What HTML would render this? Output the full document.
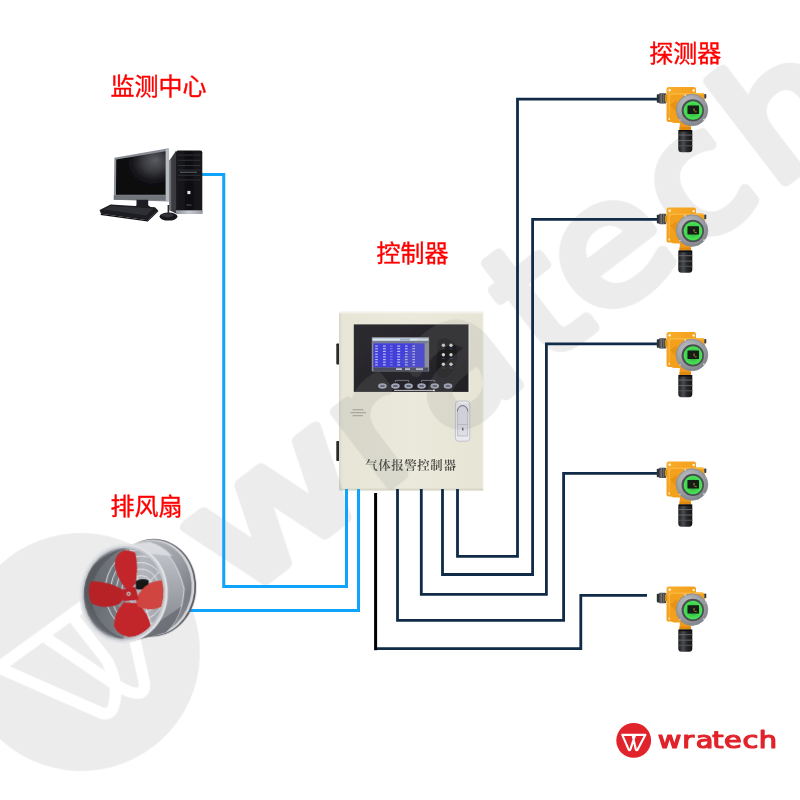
<!DOCTYPE html>
<html lang="zh-CN">
<head>
<meta charset="utf-8">
<title>气体报警控制器 系统图</title>
<style>
html,body{margin:0;padding:0;background:#fff;}
body{width:800px;height:800px;overflow:hidden;position:relative;font-family:"Liberation Sans","Noto Sans CJK SC",sans-serif;}
svg{position:absolute;left:0;top:0;display:block;}
.lbl{font-family:"Liberation Sans","Noto Sans CJK SC",sans-serif;font-size:24px;fill:#ff0000;stroke:#ff0000;stroke-width:0.35px;}
</style>
</head>
<body>
<svg width="800" height="800" viewBox="0 0 800 800">
<defs>
  
  <filter id="soft" x="-5%" y="-5%" width="110%" height="110%"><feGaussianBlur stdDeviation="0.45"/></filter>
  <filter id="soft2" x="-5%" y="-5%" width="110%" height="110%"><feGaussianBlur stdDeviation="0.3"/></filter>
  <linearGradient id="boxg" x1="0" y1="0" x2="1" y2="0">
    <stop offset="0" stop-color="#d6d4c4"/><stop offset="0.02" stop-color="#e6e5d6"/><stop offset="0.5" stop-color="#eae9db"/><stop offset="0.985" stop-color="#e6e5d5"/><stop offset="1" stop-color="#f1f0e6"/>
  </linearGradient>
  <linearGradient id="pang" x1="0" y1="0" x2="1" y2="1">
    <stop offset="0" stop-color="#2c2b30"/><stop offset="1" stop-color="#222126"/>
  </linearGradient>
  
  <radialGradient id="scr" cx="0.72" cy="0.28" r="0.62" fx="0.8" fy="0.2">
    <stop offset="0" stop-color="#5a5b61"/><stop offset="0.35" stop-color="#3b3c41"/><stop offset="0.7" stop-color="#141417"/><stop offset="1" stop-color="#09090b"/>
  </radialGradient>
  <linearGradient id="twr" x1="0" y1="0" x2="1" y2="0">
    <stop offset="0" stop-color="#1b1b1f"/><stop offset="0.5" stop-color="#0d0d10"/><stop offset="1" stop-color="#1a1a1e"/>
  </linearGradient>
  <linearGradient id="silv" x1="0" y1="0" x2="1" y2="0">
    <stop offset="0" stop-color="#8e9198"/><stop offset="0.5" stop-color="#c9ccd2"/><stop offset="1" stop-color="#9a9da4"/>
  </linearGradient>
  
  <linearGradient id="duct" x1="0" y1="0" x2="0" y2="1">
    <stop offset="0" stop-color="#c9ccd1"/><stop offset="0.25" stop-color="#b4b7bd"/><stop offset="0.6" stop-color="#999ca3"/><stop offset="1" stop-color="#7c7f86"/>
  </linearGradient>
  <linearGradient id="flange" x1="0" y1="0" x2="1" y2="1">
    <stop offset="0" stop-color="#c4c6cb"/><stop offset="0.45" stop-color="#9fa2a8"/><stop offset="0.75" stop-color="#7b7e85"/><stop offset="1" stop-color="#8e9197"/>
  </linearGradient>
  <linearGradient id="inner" x1="0" y1="0" x2="1" y2="0">
    <stop offset="0" stop-color="#6c6f76"/><stop offset="0.35" stop-color="#8c8f96"/><stop offset="0.7" stop-color="#b3b6bc"/><stop offset="1" stop-color="#a4a7ad"/>
  </linearGradient>
  <clipPath id="fanclip"><ellipse cx="300" cy="360" rx="244" ry="278" transform="rotate(6 300 360)"/></clipPath>
  
  <linearGradient id="org" x1="0" y1="0" x2="1" y2="1">
    <stop offset="0" stop-color="#f8ae2c"/><stop offset="0.5" stop-color="#f4a01e"/><stop offset="1" stop-color="#e58f12"/>
  </linearGradient>
  <radialGradient id="bez" cx="0.4" cy="0.35" r="0.7">
    <stop offset="0" stop-color="#c4c6ca"/><stop offset="0.6" stop-color="#9b9ea3"/><stop offset="1" stop-color="#7d8086"/>
  </radialGradient>
  <radialGradient id="grn" cx="0.5" cy="0.5" r="0.5">
    <stop offset="0" stop-color="#1f8a2a"/><stop offset="0.6" stop-color="#3ed14b"/><stop offset="0.9" stop-color="#4be058"/><stop offset="1" stop-color="#2c9a36"/>
  </radialGradient>
  <linearGradient id="sens" x1="0" y1="0" x2="1" y2="0">
    <stop offset="0" stop-color="#1a1b1d"/><stop offset="0.35" stop-color="#4a4c50"/><stop offset="0.6" stop-color="#2a2b2e"/><stop offset="1" stop-color="#141416"/>
  </linearGradient>
  <g id="det" transform="scale(0.1)">
    <!-- plate -->
    <rect x="165" y="70" width="295" height="350" rx="22" fill="url(#org)"/>
    <circle cx="197" cy="102" r="12" fill="#fff8ea"/><circle cx="437" cy="105" r="12" fill="#fff8ea"/><circle cx="197" cy="388" r="12" fill="#fff8ea"/>
    <!-- housing -->
    <path d="M185 150 Q185 130 210 130 H520 Q548 130 548 160 V330 Q548 400 480 430 H250 Q200 430 195 380 z" fill="#f3a01f"/>
    <path d="M185 150 Q185 130 210 130 H520 Q540 130 546 145 H215 Q200 150 200 170 V380 L195 380 z" fill="#f9b740"/>
    <path d="M200 250 L270 200 L262 320 z" fill="#e08c10" opacity="0.6"/>
    <!-- glands -->
    <rect x="68" y="142" width="32" height="86" rx="8" fill="#2f3134"/>
    <rect x="90" y="132" width="72" height="104" rx="10" fill="#45484c"/>
    <rect x="106" y="134" width="11" height="100" fill="#83868b"/><rect x="132" y="134" width="10" height="100" fill="#6c6f74"/>
    <rect x="150" y="150" width="22" height="66" fill="#d98c18"/>
    <rect x="543" y="140" width="20" height="46" rx="8" fill="#3a3c40"/>
    <!-- neck -->
    <path d="M300 410 H408 V500 H295 z" fill="#f0991a"/>
    <path d="M295 470 H410 V500 H295 z" fill="#e08a10"/>
    <!-- sensor -->
    <path d="M283 500 H423 V690 Q423 722 390 722 H316 Q283 722 283 690 z" fill="url(#sens)"/>
    <rect x="283" y="545" width="140" height="11" fill="#6a6c70" opacity="0.85"/><rect x="283" y="600" width="140" height="11" fill="#66686c" opacity="0.85"/><rect x="283" y="652" width="140" height="11" fill="#55575b" opacity="0.85"/>
    <rect x="290" y="500" width="126" height="16" fill="#101113"/>
    <!-- bezel -->
    <circle cx="420" cy="300" r="158" fill="url(#bez)"/>
    <circle cx="420" cy="300" r="158" fill="none" stroke="#8a8c90" stroke-width="8"/>
    <circle cx="428" cy="304" r="112" fill="#4c4f53"/>
    <circle cx="430" cy="305" r="96" fill="url(#grn)"/>
    <rect x="375" y="256" width="115" height="84" rx="4" fill="#141a14"/>
    <rect x="436" y="285" width="9" height="26" fill="#c9a13a"/><rect x="445" y="315" width="22" height="7" fill="#c9a13a"/>
    <circle cx="352" cy="152" r="9" fill="#d9dbde"/><circle cx="540" cy="395" r="9" fill="#d9dbde"/><circle cx="300" cy="400" r="8" fill="#d0d2d6"/><circle cx="560" cy="230" r="8" fill="#b9bbbf"/>
  </g>
  
  <mask id="wmask" maskUnits="userSpaceOnUse" x="-130" y="-130" width="260" height="260">
    <rect x="-130" y="-130" width="260" height="260" fill="#fff"/>
    <path transform="rotate(1.5)" d="M14 -36 L16 22 Q13 46 -2 60 Q-12 70 -19 62 L-76 -36 L76 -36 L35 58 Q31 69 24 68 Q14 64 4 34 L-21 -35" fill="none" stroke="#000" stroke-width="11.5" stroke-linejoin="round" stroke-linecap="round"/>
  </mask>
  <!-- DEFS -->
</defs>
<rect width="800" height="800" fill="#ffffff"/>

<!-- CONTROLLER -->
<g id="controller" filter="url(#soft)">
  <rect x="336.3" y="343.5" width="3.2" height="21" rx="0.8" fill="#2a2a2a"/>
  <rect x="336.3" y="441" width="3.2" height="20" rx="0.8" fill="#2a2a2a"/>
  <rect x="339" y="311.8" width="144.6" height="178.8" rx="2" fill="url(#boxg)"/>
  <rect x="339" y="311.8" width="144.6" height="1.6" rx="0.8" fill="#f3f2ea"/>
  <rect x="339" y="488.4" width="144.6" height="2.2" rx="1" fill="#d9d7c8"/>
  <rect x="353.8" y="324.4" width="114.9" height="67.5" fill="url(#pang)"/>
  <rect x="468.7" y="324.4" width="1.2" height="67.5" fill="#f3f2ea"/>
  <path d="M438 341 q4 -4 10 -2 q8 2 9 12 q1 12 -4 20 q-4 6 -10 7 q-6 0 -7 -8 z" fill="#1a191d" opacity="0.8"/>
  <rect x="371.8" y="337.1" width="57.3" height="34.3" fill="#8d8e9c"/>
  <rect x="372.6" y="338.3" width="55.8" height="2.6" fill="#d5e6ee"/>
  <rect x="400" y="338.6" width="10" height="2" fill="#9fb0c8"/>
  <rect x="372.6" y="340.9" width="55.8" height="2.4" fill="#767a92"/>
  <rect x="373.3" y="343.3" width="51.3" height="24.2" fill="#4340d8"/>
  <rect x="373.3" y="367.5" width="55" height="3.4" fill="#4a4c5e"/>
  <rect x="396" y="368.3" width="6" height="1.6" fill="#c9cbd6"/><rect x="405" y="368.3" width="5" height="1.6" fill="#c9cbd6"/><rect x="416" y="368.3" width="7" height="1.6" fill="#c9cbd6"/>
  <rect x="375.2" y="345.5" width="2.6" height="1.2" fill="#dfe3ff" opacity="0.75"/><rect x="383" y="345.5" width="2.8" height="1.2" fill="#dfe3ff" opacity="0.75"/><rect x="390" y="345.5" width="2.6" height="1.2" fill="#dfe3ff" opacity="0.35"/><rect x="397.2" y="345.5" width="3" height="1.2" fill="#dfe3ff" opacity="0.75"/><rect x="405" y="345.5" width="2.6" height="1.2" fill="#dfe3ff" opacity="0.75"/><rect x="412.4" y="345.5" width="2.6" height="1.2" fill="#dfe3ff" opacity="0.75"/><rect x="375.2" y="348.1" width="2.6" height="1.2" fill="#dfe3ff" opacity="0.75"/><rect x="383" y="348.1" width="2.8" height="1.2" fill="#dfe3ff" opacity="0.75"/><rect x="390" y="348.1" width="2.6" height="1.2" fill="#dfe3ff" opacity="0.35"/><rect x="397.2" y="348.1" width="3" height="1.2" fill="#dfe3ff" opacity="0.75"/><rect x="405" y="348.1" width="2.6" height="1.2" fill="#dfe3ff" opacity="0.75"/><rect x="412.4" y="348.1" width="2.6" height="1.2" fill="#dfe3ff" opacity="0.75"/><rect x="375.2" y="350.8" width="2.6" height="1.2" fill="#dfe3ff" opacity="0.75"/><rect x="383" y="350.8" width="2.8" height="1.2" fill="#dfe3ff" opacity="0.75"/><rect x="390" y="350.8" width="2.6" height="1.2" fill="#dfe3ff" opacity="0.35"/><rect x="397.2" y="350.8" width="3" height="1.2" fill="#dfe3ff" opacity="0.75"/><rect x="405" y="350.8" width="2.6" height="1.2" fill="#dfe3ff" opacity="0.75"/><rect x="412.4" y="350.8" width="2.6" height="1.2" fill="#dfe3ff" opacity="0.75"/><rect x="375.2" y="353.6" width="2.6" height="1.2" fill="#dfe3ff" opacity="0.75"/><rect x="383" y="353.6" width="2.8" height="1.2" fill="#dfe3ff" opacity="0.75"/><rect x="390" y="353.6" width="2.6" height="1.2" fill="#dfe3ff" opacity="0.35"/><rect x="397.2" y="353.6" width="3" height="1.2" fill="#dfe3ff" opacity="0.75"/><rect x="405" y="353.6" width="2.6" height="1.2" fill="#dfe3ff" opacity="0.75"/><rect x="412.4" y="353.6" width="2.6" height="1.2" fill="#dfe3ff" opacity="0.75"/><rect x="375.2" y="356.3" width="2.6" height="1.2" fill="#dfe3ff" opacity="0.75"/><rect x="383" y="356.3" width="2.8" height="1.2" fill="#dfe3ff" opacity="0.75"/><rect x="390" y="356.3" width="2.6" height="1.2" fill="#dfe3ff" opacity="0.35"/><rect x="397.2" y="356.3" width="3" height="1.2" fill="#dfe3ff" opacity="0.75"/><rect x="405" y="356.3" width="2.6" height="1.2" fill="#dfe3ff" opacity="0.75"/><rect x="412.4" y="356.3" width="2.6" height="1.2" fill="#dfe3ff" opacity="0.75"/><rect x="375.2" y="359.0" width="2.6" height="1.2" fill="#dfe3ff" opacity="0.75"/><rect x="383" y="359.0" width="2.8" height="1.2" fill="#dfe3ff" opacity="0.75"/><rect x="390" y="359.0" width="2.6" height="1.2" fill="#dfe3ff" opacity="0.35"/><rect x="397.2" y="359.0" width="3" height="1.2" fill="#dfe3ff" opacity="0.75"/><rect x="405" y="359.0" width="2.6" height="1.2" fill="#dfe3ff" opacity="0.75"/><rect x="412.4" y="359.0" width="2.6" height="1.2" fill="#dfe3ff" opacity="0.75"/><rect x="375.2" y="361.6" width="2.6" height="1.2" fill="#dfe3ff" opacity="0.75"/><rect x="383" y="361.6" width="2.8" height="1.2" fill="#dfe3ff" opacity="0.75"/><rect x="390" y="361.6" width="2.6" height="1.2" fill="#dfe3ff" opacity="0.35"/><rect x="397.2" y="361.6" width="3" height="1.2" fill="#dfe3ff" opacity="0.75"/><rect x="405" y="361.6" width="2.6" height="1.2" fill="#dfe3ff" opacity="0.75"/><rect x="412.4" y="361.6" width="2.6" height="1.2" fill="#dfe3ff" opacity="0.75"/><rect x="375.2" y="364.3" width="2.6" height="1.2" fill="#dfe3ff" opacity="0.75"/><rect x="383" y="364.3" width="2.8" height="1.2" fill="#dfe3ff" opacity="0.75"/><rect x="390" y="364.3" width="2.6" height="1.2" fill="#dfe3ff" opacity="0.35"/><rect x="397.2" y="364.3" width="3" height="1.2" fill="#dfe3ff" opacity="0.75"/><rect x="405" y="364.3" width="2.6" height="1.2" fill="#dfe3ff" opacity="0.75"/><rect x="412.4" y="364.3" width="2.6" height="1.2" fill="#dfe3ff" opacity="0.75"/>
  <circle cx="443.4" cy="345.2" r="1.7" fill="#cfcfd3"/><rect x="441.79999999999995" y="348.4" width="3.2" height="0.9" fill="#3b4a8c" opacity="0.8"/><circle cx="451" cy="345.2" r="1.7" fill="#cfcfd3"/><rect x="449.4" y="348.4" width="3.2" height="0.9" fill="#3b4a8c" opacity="0.8"/><circle cx="443.4" cy="354.8" r="1.7" fill="#cfcfd3"/><rect x="441.79999999999995" y="358.0" width="3.2" height="0.9" fill="#3b4a8c" opacity="0.8"/><circle cx="451" cy="354.8" r="1.7" fill="#cfcfd3"/><rect x="449.4" y="358.0" width="3.2" height="0.9" fill="#3b4a8c" opacity="0.8"/><circle cx="443.4" cy="364.3" r="1.7" fill="#cfcfd3"/><rect x="441.79999999999995" y="367.5" width="3.2" height="0.9" fill="#3b4a8c" opacity="0.8"/><circle cx="451" cy="364.3" r="1.7" fill="#cfcfd3"/><rect x="449.4" y="367.5" width="3.2" height="0.9" fill="#3b4a8c" opacity="0.8"/>
  <path d="M395.4 382 V380.4 H408.6 V382 M421.6 382 V380.4 H434.8 V382" fill="none" stroke="#8f93a3" stroke-width="0.7"/>
  <ellipse cx="382.4" cy="386" rx="4.3" ry="2.7" fill="#a4a9ba"/><rect x="380.2" y="385.2" width="4.4" height="1.6" rx="0.5" fill="#4a4d5c"/><ellipse cx="395.4" cy="386" rx="4.3" ry="2.7" fill="#a4a9ba"/><rect x="393.2" y="385.2" width="4.4" height="1.6" rx="0.5" fill="#4a4d5c"/><ellipse cx="408.6" cy="386" rx="4.3" ry="2.7" fill="#a4a9ba"/><rect x="406.40000000000003" y="385.2" width="4.4" height="1.6" rx="0.5" fill="#4a4d5c"/><ellipse cx="421.6" cy="386" rx="4.3" ry="2.7" fill="#a4a9ba"/><rect x="419.40000000000003" y="385.2" width="4.4" height="1.6" rx="0.5" fill="#4a4d5c"/><ellipse cx="434.8" cy="386" rx="4.3" ry="2.7" fill="#a4a9ba"/><rect x="432.6" y="385.2" width="4.4" height="1.6" rx="0.5" fill="#4a4d5c"/><ellipse cx="448" cy="386" rx="4.3" ry="2.7" fill="#a4a9ba"/><rect x="445.8" y="385.2" width="4.4" height="1.6" rx="0.5" fill="#4a4d5c"/>
  <rect x="394" y="389.9" width="40" height="0.9" fill="#d9d9de"/><circle cx="434" cy="390.4" r="0.9" fill="#fff"/>
  <g fill="#8f8e84" opacity="0.8"><rect x="352.5" y="409.3" width="11" height="1"/><rect x="350.5" y="412.2" width="15.5" height="1"/><rect x="352.5" y="415.2" width="10.5" height="1"/></g>
  <rect x="455.4" y="401" width="14.4" height="40.2" rx="3" fill="#e9e9f0" stroke="#b9b9c2" stroke-width="0.8"/>
  <path d="M457.6 436 V411 a5 5.4 0 0 1 10 0 V436 z" fill="#dedee8" stroke="#a9a9b4" stroke-width="0.6"/>
  <path d="M457.4 411.4 a5.2 5.8 0 0 1 10.4 0" fill="none" stroke="#6d6e77" stroke-width="1"/>
  <rect x="457.6" y="424" width="10" height="0.7" fill="#b5b5c0"/>
  <rect x="462.2" y="427.4" width="1.2" height="3.2" rx="0.5" fill="#44454c"/>
  <text x="365.2" y="470" font-family="'Liberation Serif','Noto Serif CJK SC',serif" font-weight="600" font-size="12.4px" fill="#41413d" textLength="90.6" lengthAdjust="spacing">气体报警控制器</text>
</g>



<!-- WATERMARK OVERLAY -->
<g id="watermark" opacity="0.17">
 <g transform="translate(81,652) rotate(-37.5)">
  <circle cx="0" cy="0" r="119" fill="#919191" mask="url(#wmask)"/>
  <text y="55" font-family="'DejaVu Sans','Liberation Sans',sans-serif" font-size="165px" fill="#919191" stroke="#919191" stroke-width="11" stroke-linejoin="round" ><tspan x="151.60" textLength="179.30" lengthAdjust="spacingAndGlyphs">w</tspan><tspan x="332.73" textLength="69.62" lengthAdjust="spacingAndGlyphs">r</tspan><tspan x="419.41" textLength="105.52" lengthAdjust="spacingAndGlyphs">a</tspan><tspan x="543.06" textLength="65.39" lengthAdjust="spacingAndGlyphs">t</tspan><tspan x="607.07" textLength="111.49" lengthAdjust="spacingAndGlyphs">e</tspan><tspan x="728.44" textLength="90.26" lengthAdjust="spacingAndGlyphs">c</tspan><tspan x="829.45" textLength="116.01" lengthAdjust="spacingAndGlyphs">h</tspan></text>
 </g>
</g>
<!-- ENDWM -->

<!-- WIRES -->
<g id="wires" fill="none" stroke-linejoin="miter" stroke-linecap="butt">
  <g stroke="#0fa3fb" stroke-width="3">
    <path d="M201 174.4 H223.75 V586.4 H346.5 V489"/>
    <path d="M190 610.4 H358.5 V489"/>
  </g>
  <g stroke="#0f2b47" stroke-width="2.8">
    <path d="M457.5 489 V556.4 H517.5 V99.2 H660"/>
    <path d="M442.5 489 V574.5 H532.6 V219.4 H660"/>
    <path d="M421.3 489 V594.4 H546.4 V343.9 H660"/>
    <path d="M397.5 489 V620.3 H563.6 V473.4 H660"/>
    <path d="M375.5 648.6 H580.8 V595.4 H647"/>
  </g>
  <path d="M375.6 493 V650.2" stroke="#000" stroke-width="3"/>
</g>

<!-- COMPUTER -->
<g id="computer" filter="url(#soft)">
  <!-- tower side -->
  <path d="M176 150.8 L169.5 160.5 V210.3 L176 213.6 z" fill="#3a3b40"/>
  <path d="M169.5 160.5 V210.3 L171.2 211.2 V158 z" fill="#6d7078"/>
  <!-- tower front -->
  <path d="M176 152.3 q0 -1.8 2 -1.8 H200.3 q2 0 2 1.8 V213.6 H176 z" fill="url(#twr)"/>
  <rect x="176" y="210.3" width="26.3" height="3.6" fill="url(#silv)"/>
  <g fill="#34353b"><rect x="178" y="154.6" width="22.5" height="0.9"/><rect x="178" y="159.8" width="22.5" height="0.9"/><rect x="178" y="165" width="22.5" height="0.9"/><rect x="178" y="169.6" width="22.5" height="0.9"/><rect x="178" y="174.8" width="22.5" height="0.9"/><rect x="178" y="179.5" width="22.5" height="0.8"/></g>
  <rect x="180" y="171.6" width="17" height="1.4" fill="#4b4d55"/>
  <rect x="187.4" y="190.9" width="3" height="3.2" fill="#e6e6ea"/>
  <rect x="186.5" y="204.6" width="5" height="0.9" fill="#5a5c63"/>
  <!-- monitor -->
  <path d="M114.4 157.8 L168.6 148.2 V201.6 L113.8 199.7 z" fill="#8a8e96"/>
  <path d="M165.6 150 L168.6 148.2 V201.6 L165.6 200.6 z" fill="#b9bcc3"/>
  <path d="M116.3 159.6 L165.5 151.2 V194.8 L116 194.8 z" fill="url(#scr)"/>
  <path d="M113.8 195.2 L165.6 195.2 V200.6 L113.8 199.7 z" fill="#70747c"/>
  <!-- stand -->
  <path d="M136.5 199.8 H148.2 V205.2 L150.5 207 H134.5 L136.5 205.2 z" fill="#1d1d20"/>
  <!-- keyboard -->
  <path d="M99.6 210 L110.6 204.5 L155 207.3 L158.2 210.4 L147.6 220.3 L101 213.8 z" fill="#1c1c20"/>
  <path d="M103 209.6 L111 205.8 L153.5 208.4 L146.4 215.6 z" fill="#2e2f35"/>
  <path d="M101 213.8 L147.6 220.3 L158.2 210.4 L158.2 211.6 L147.8 221.6 L100.6 215 z" fill="#0c0c0e"/>
  <!-- mouse -->
  <ellipse cx="168.5" cy="216.6" rx="9" ry="4" fill="#17171a"/>
  <ellipse cx="167.5" cy="215.2" rx="6" ry="2" fill="#303137"/>
  <rect x="167.6" y="205" width="1.6" height="9" fill="#2a2a2e"/>
</g>


<!-- FAN -->
<g id="fan" transform="translate(75,535) scale(0.1625)" filter="url(#soft)">
  <!-- back flange -->
  <ellipse cx="478" cy="325" rx="268" ry="301" transform="rotate(6 478 325)" fill="#54575d"/>
  <ellipse cx="473" cy="325" rx="262" ry="297" transform="rotate(6 473 325)" fill="#d4d6da"/>
  <ellipse cx="464" cy="325" rx="254" ry="289" transform="rotate(6 464 325)" fill="url(#flange)"/>
  <!-- duct body -->
  <path d="M300 62 L455 44 Q610 90 672 330 Q662 510 560 600 L330 660 z" fill="url(#duct)"/>
  <path d="M455 44 Q610 90 672 330 Q662 510 560 600" fill="none" stroke="#dcdee1" stroke-width="7" opacity="0.8"/>
  <path d="M330 660 L560 600 Q630 540 655 440 L480 560 z" fill="#65686f" opacity="0.75"/>
  <path d="M300 62 L455 44 Q540 62 600 130 L420 112 z" fill="#e0e2e5" opacity="0.75"/>
  <!-- front ring -->
  <ellipse cx="300" cy="360" rx="272" ry="306" transform="rotate(6 300 360)" fill="#e0e2e5"/>
  <ellipse cx="300" cy="360" rx="258" ry="292" transform="rotate(6 300 360)" fill="#c6c9ce"/>
  <ellipse cx="300" cy="360" rx="246" ry="280" transform="rotate(6 300 360)" fill="url(#inner)"/>
  <g clip-path="url(#fanclip)">
    <path d="M40 300 Q130 120 310 80 L300 650 Q110 580 40 300 z" fill="#5a5d64" opacity="0.5"/>
    <path d="M54 360 Q60 150 300 82 Q120 170 96 360 Q110 560 300 640 Q80 600 54 360 z" fill="#4e5157" opacity="0.6"/>
    <g fill="none" stroke="#eceef0" stroke-width="6" opacity="0.9"><ellipse cx="405" cy="345" rx="47" ry="55"/><ellipse cx="405" cy="345" rx="82" ry="95"/><ellipse cx="405" cy="345" rx="116" ry="135"/><ellipse cx="405" cy="345" rx="150" ry="175"/><ellipse cx="405" cy="345" rx="185" ry="215"/><ellipse cx="405" cy="345" rx="219" ry="255"/>
      <path d="M405 345 L570 170 M405 345 L610 430 M405 345 L490 620 M405 345 L340 80"/>
    </g>
    <!-- motor -->
    <path d="M372 285 Q410 262 452 280 L456 322 Q410 345 376 332 z" fill="#131315"/>
    <rect x="215" y="400" width="95" height="36" fill="#85888e"/>
    <!-- blades -->
    <path d="M330 352 Q262 280 246 190 Q240 120 300 95 Q345 92 372 112 Q392 200 372 300 z" fill="#c3252b"/>
    <path d="M318 350 Q220 285 100 284 Q68 330 100 420 Q180 462 270 425 Q300 400 318 350 z" fill="#b72128"/>
    <path d="M300 415 Q240 480 240 560 Q262 615 330 628 Q410 622 470 580 Q455 480 385 420 z" fill="#c3252b"/>
    <path d="M376 402 Q395 330 470 292 Q520 275 548 282 Q570 360 530 442 Q450 475 385 440 z" fill="#d1453f"/>
    <path d="M282 340 L372 318 L392 398 L298 408 z" fill="#bd2229"/>
    <circle cx="330" cy="362" r="13" fill="#cfc8ba"/><circle cx="330" cy="362" r="6" fill="#5a4a40"/>
  </g>
</g>

<!-- DETECTORS -->
<g id="detectors" filter="url(#soft)"><use href="#det" x="650" y="80.0"/><use href="#det" x="650" y="200.6"/><use href="#det" x="650" y="325.0"/><use href="#det" x="650" y="454.5"/><use href="#det" x="650" y="579.6"/></g>


<!-- LABELS -->
<text class="lbl" x="110.6" y="94.6">监测中心</text>
<text class="lbl" x="376.4" y="261.6">控制器</text>
<text class="lbl" x="649.3" y="62.1">探测器</text>
<text class="lbl" x="110.5" y="514.6">排风扇</text>

<!-- LOGO -->
<g id="logo">
  <circle cx="633.7" cy="740.4" r="17.4" fill="#e1232b"/>
  <g transform="translate(633.7,740.4) scale(0.1462)"><path d="M-78 -38 L80 -38 L28 60 Q21 74 14 60 L-6 -30 M-78 -38 L-36 60 Q-29 74 -22 60 L10 -38" fill="none" stroke="#ffffff" stroke-width="14.5" stroke-linejoin="round" stroke-linecap="round"/></g>
  <text transform="scale(1.255,1)" x="524.06 543.71 554.34 567.49 576.97 591.56 604.51" y="747.7" font-family="'DejaVu Sans','Liberation Sans',sans-serif" font-size="23px" fill="#e1232b" stroke="#e1232b" stroke-width="1.2" stroke-linejoin="round">wratech</text>
</g>


</svg>
</body>
</html>
